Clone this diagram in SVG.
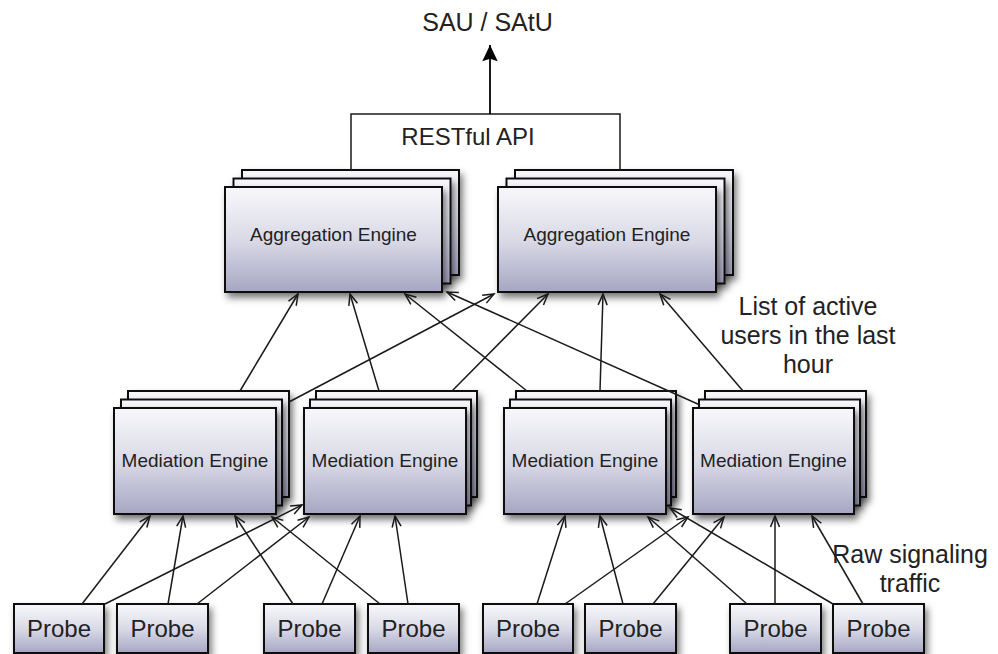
<svg xmlns="http://www.w3.org/2000/svg" width="998" height="654" viewBox="0 0 998 654">
<defs>
<linearGradient id="g" x1="0" y1="0" x2="0" y2="1">
<stop offset="0" stop-color="#f8f8fb"/>
<stop offset="0.5" stop-color="#dadae7"/>
<stop offset="1" stop-color="#a6a6c3"/>
</linearGradient>
<filter id="sh" x="-20%" y="-20%" width="150%" height="160%">
<feDropShadow dx="3" dy="5" stdDeviation="3.5" flood-color="#000" flood-opacity="0.5"/>
</filter>
<marker id="open" markerUnits="userSpaceOnUse" markerWidth="16" markerHeight="16" refX="0" refY="0" viewBox="-14 -8 16 16" orient="auto" overflow="visible">
<path d="M-11,-4.5 L0,0 L-11,4.5" fill="none" stroke="#1a1a1a" stroke-width="1.5"/>
</marker>
<marker id="solid" markerUnits="userSpaceOnUse" markerWidth="20" markerHeight="20" refX="0" refY="0" viewBox="-20 -10 22 20" orient="auto" overflow="visible">
<path d="M0,0 L-18,-8.5 L-15,0 L-18,8.5 Z" fill="#000"/>
</marker>
</defs>
<style>
.box{fill:url(#g);stroke:#111;stroke-width:2;filter:url(#sh)}
.t{font-family:"Liberation Sans",Arial,sans-serif;fill:#222;text-anchor:middle}
.ag{font-size:19px}
.me{font-size:19px}
.pr{font-size:24px}
.note{font-size:25px}
.c{stroke:#1a1a1a;stroke-width:1.5;fill:none;marker-end:url(#open)}
</style>
<rect width="998" height="654" fill="#fff"/>

<g id="sau">
<text class="t note" x="487.5" y="31">SAU / SAtU</text>
</g>

<g id="agg1">
<rect class="box" x="242" y="170" width="217" height="105"/>
<rect class="box" x="233.5" y="178.5" width="217" height="105"/>
<rect class="box" x="225" y="187" width="217" height="105"/>
<text class="t ag" x="333.5" y="241">Aggregation Engine</text>
</g>
<g id="agg2">
<rect class="box" x="515" y="170" width="218" height="105"/>
<rect class="box" x="506.5" y="178.5" width="218" height="105"/>
<rect class="box" x="498" y="187" width="218" height="105"/>
<text class="t ag" x="607" y="241">Aggregation Engine</text>
</g>

<g id="med1">
<rect class="box" x="128" y="391" width="161" height="106"/>
<rect class="box" x="121" y="399.5" width="161" height="106"/>
<rect class="box" x="114" y="408" width="162" height="106"/>
<text class="t me" x="195" y="467">Mediation Engine</text>
</g>
<g id="med2">
<rect class="box" x="316" y="391" width="161" height="106"/>
<rect class="box" x="310" y="399.5" width="161" height="106"/>
<rect class="box" x="304" y="408" width="162" height="106"/>
<text class="t me" x="385" y="467">Mediation Engine</text>
</g>
<g id="med3">
<rect class="box" x="516" y="391" width="160" height="106"/>
<rect class="box" x="510" y="399.5" width="161" height="106"/>
<rect class="box" x="504" y="408" width="162" height="106"/>
<text class="t me" x="585" y="467">Mediation Engine</text>
</g>
<g id="med4">
<rect class="box" x="705" y="391" width="161" height="106"/>
<rect class="box" x="699" y="399.5" width="161" height="106"/>
<rect class="box" x="693" y="408" width="161" height="106"/>
<text class="t me" x="773.5" y="467">Mediation Engine</text>
</g>

<g id="probe1"><rect class="box" x="14" y="604" width="90" height="49"/><text class="t pr" x="59" y="637">Probe</text></g>
<g id="probe2"><rect class="box" x="117" y="604" width="91" height="49"/><text class="t pr" x="162.5" y="637">Probe</text></g>
<g id="probe3"><rect class="box" x="264" y="604" width="91" height="49"/><text class="t pr" x="309.5" y="637">Probe</text></g>
<g id="probe4"><rect class="box" x="368" y="604" width="91" height="49"/><text class="t pr" x="413.5" y="637">Probe</text></g>
<g id="probe5"><rect class="box" x="483" y="604" width="90" height="49"/><text class="t pr" x="528" y="637">Probe</text></g>
<g id="probe6"><rect class="box" x="585" y="604" width="91" height="49"/><text class="t pr" x="630.5" y="637">Probe</text></g>
<g id="probe7"><rect class="box" x="730" y="604" width="91" height="49"/><text class="t pr" x="775.5" y="637">Probe</text></g>
<g id="probe8"><rect class="box" x="833" y="604" width="91" height="49"/><text class="t pr" x="878.5" y="637">Probe</text></g>

<g id="connectors">
<path d="M351,170 L351,114 L620,114 L620,170" fill="none" stroke="#1a1a1a" stroke-width="1.5"/>
<line x1="490" y1="114" x2="490" y2="45" stroke="#000" stroke-width="1.8" marker-end="url(#solid)"/>
<text class="t" style="font-size:24px" x="468" y="145">RESTful API</text>

<line class="c" x1="240" y1="391" x2="298" y2="294"/>
<line class="c" x1="289" y1="402" x2="494" y2="294"/>
<line class="c" x1="379" y1="391" x2="350" y2="294"/>
<line class="c" x1="452" y1="391" x2="548" y2="294"/>
<line class="c" x1="527" y1="391" x2="405" y2="294"/>
<line class="c" x1="600" y1="391" x2="603" y2="294"/>
<line class="c" x1="700" y1="405" x2="447" y2="292"/>
<line class="c" x1="743" y1="391" x2="660" y2="294"/>

<line class="c" x1="82" y1="604" x2="150" y2="516"/>
<line class="c" x1="105" y1="604" x2="302" y2="505"/>
<line class="c" x1="168" y1="604" x2="183" y2="516"/>
<line class="c" x1="197" y1="604" x2="309" y2="517"/>
<line class="c" x1="293" y1="604" x2="235" y2="516"/>
<line class="c" x1="322" y1="604" x2="360" y2="516"/>
<line class="c" x1="380" y1="604" x2="272" y2="517"/>
<line class="c" x1="408" y1="604" x2="395" y2="516"/>

<line class="c" x1="537" y1="604" x2="565" y2="516"/>
<line class="c" x1="565" y1="604" x2="688" y2="517"/>
<line class="c" x1="623" y1="604" x2="600" y2="516"/>
<line class="c" x1="653" y1="604" x2="724" y2="517"/>
<line class="c" x1="747" y1="604" x2="648" y2="517"/>
<line class="c" x1="775" y1="604" x2="775" y2="516"/>
<line class="c" x1="833" y1="604" x2="670" y2="508"/>
<line class="c" x1="863" y1="604" x2="812" y2="516"/>
</g>

<g id="notes">
<text class="t note" x="808" y="315">List of active</text>
<text class="t note" x="808" y="344">users in the last</text>
<text class="t note" x="808" y="373">hour</text>
<text class="t note" x="910" y="563">Raw signaling</text>
<text class="t note" x="910" y="592">traffic</text>
</g>
</svg>
